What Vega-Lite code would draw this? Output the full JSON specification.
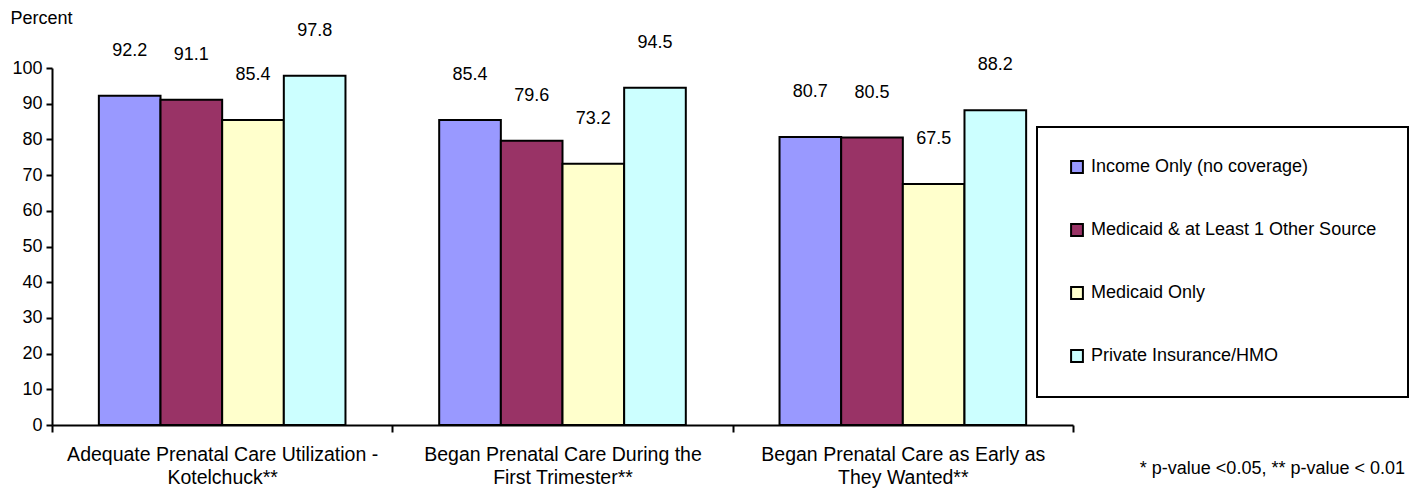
{
  "$schema": "https://vega.github.io/schema/vega-lite/v6.json",
  "width": 1021,
  "height": 357,
  "autosize": "none",
  "padding": {"left": 52, "top": 68, "right": 346, "bottom": 71},
  "background": "white",
  "config": {
    "font": "Liberation Sans",
    "view": {"stroke": null},
    "legend": {"strokeWidth": 2},
    "axis": {"labelFont": "Liberation Sans", "titleFont": "Liberation Sans", "labelColor": "black", "titleColor": "black", "domainColor": "black", "tickColor": "black", "grid": false}
  },
  "title": {
    "text": "* p-value <0.05, ** p-value < 0.01",
    "orient": "bottom",
    "anchor": "end",
    "frame": "group",
    "dx": 332,
    "offset": -27,
    "fontSize": 18,
    "fontWeight": "normal",
    "font": "Liberation Sans",
    "color": "black"
  },
  "data": {
    "values": [
      {"measure": "Adequate Prenatal Care Utilization - Kotelchuck**", "coverage": "Income Only (no coverage)", "percent": 92.2},
      {"measure": "Adequate Prenatal Care Utilization - Kotelchuck**", "coverage": "Medicaid & at Least 1 Other Source", "percent": 91.1},
      {"measure": "Adequate Prenatal Care Utilization - Kotelchuck**", "coverage": "Medicaid Only", "percent": 85.4},
      {"measure": "Adequate Prenatal Care Utilization - Kotelchuck**", "coverage": "Private Insurance/HMO", "percent": 97.8},
      {"measure": "Began Prenatal Care During the First Trimester**", "coverage": "Income Only (no coverage)", "percent": 85.4},
      {"measure": "Began Prenatal Care During the First Trimester**", "coverage": "Medicaid & at Least 1 Other Source", "percent": 79.6},
      {"measure": "Began Prenatal Care During the First Trimester**", "coverage": "Medicaid Only", "percent": 73.2},
      {"measure": "Began Prenatal Care During the First Trimester**", "coverage": "Private Insurance/HMO", "percent": 94.5},
      {"measure": "Began Prenatal Care as Early as They Wanted**", "coverage": "Income Only (no coverage)", "percent": 80.7},
      {"measure": "Began Prenatal Care as Early as They Wanted**", "coverage": "Medicaid & at Least 1 Other Source", "percent": 80.5},
      {"measure": "Began Prenatal Care as Early as They Wanted**", "coverage": "Medicaid Only", "percent": 67.5},
      {"measure": "Began Prenatal Care as Early as They Wanted**", "coverage": "Private Insurance/HMO", "percent": 88.2}
    ]
  },
  "encoding": {
    "x": {
      "field": "measure",
      "type": "nominal",
      "sort": null,
      "scale": {"paddingInner": 0, "paddingOuter": 0},
      "axis": {
        "title": null,
        "labelAngle": 0,
        "labelFontSize": 19.5,
        "labelLineHeight": 23,
        "labelPadding": 13,
        "labelLimit": 400,
        "tickBand": "extent",
        "tickSize": 7,
        "tickWidth": 2,
        "domainWidth": 2,
        "labelExpr": "datum.value == 'Adequate Prenatal Care Utilization - Kotelchuck**' ? ['Adequate Prenatal Care Utilization -', 'Kotelchuck**'] : datum.value == 'Began Prenatal Care During the First Trimester**' ? ['Began Prenatal Care During the', 'First Trimester**'] : datum.value == 'Began Prenatal Care as Early as They Wanted**' ? ['Began Prenatal Care as Early as', 'They Wanted**'] : ''"
      }
    },
    "xOffset": {
      "field": "coverage",
      "type": "nominal",
      "sort": null,
      "scale": {"paddingInner": 0, "paddingOuter": 0.76}
    },
    "y": {
      "field": "percent",
      "type": "quantitative",
      "scale": {"domain": [0, 100]},
      "axis": {
        "title": "Percent",
        "titleAngle": 0,
        "titleAlign": "left",
        "titleBaseline": "middle",
        "titleX": -42,
        "titleY": -50,
        "titleFontSize": 18,
        "titleFontWeight": "normal",
        "values": [0, 10, 20, 30, 40, 50, 60, 70, 80, 90, 100],
        "labelOverlap": false,
        "labelFontSize": 18,
        "labelPadding": 4,
        "tickSize": 6,
        "tickWidth": 2,
        "domainWidth": 2
      }
    }
  },
  "layer": [
    {
      "mark": {"type": "bar", "stroke": "black", "strokeWidth": 2},
      "encoding": {
        "color": {
          "field": "coverage",
          "type": "nominal",
          "sort": null,
          "scale": {
            "domain": ["Income Only (no coverage)", "Medicaid & at Least 1 Other Source", "Medicaid Only", "Private Insurance/HMO"],
            "range": ["#9999FF", "#993366", "#FFFFCC", "#CCFFFF"]
          },
          "legend": {
            "title": null,
            "orient": "none",
            "legendX": 985,
            "legendY": 59,
            "padding": 31,
            "strokeColor": "black",
            "fillColor": "white",
            "symbolType": "square",
            "symbolSize": 140,
            "symbolStrokeColor": "black",
            "symbolStrokeWidth": 2,
            "symbolOpacity": 1,
            "labelFontSize": 18,
            "labelColor": "black",
            "labelFont": "Liberation Sans",
            "labelOffset": 5,
            "labelLimit": 400,
            "rowPadding": 43
          }
        }
      }
    },
    {
      "mark": {"type": "text", "dy": -45, "fontSize": 18, "color": "black", "baseline": "middle"},
      "encoding": {
        "text": {"field": "percent", "type": "quantitative", "format": ".1f"}
      }
    }
  ]
}
